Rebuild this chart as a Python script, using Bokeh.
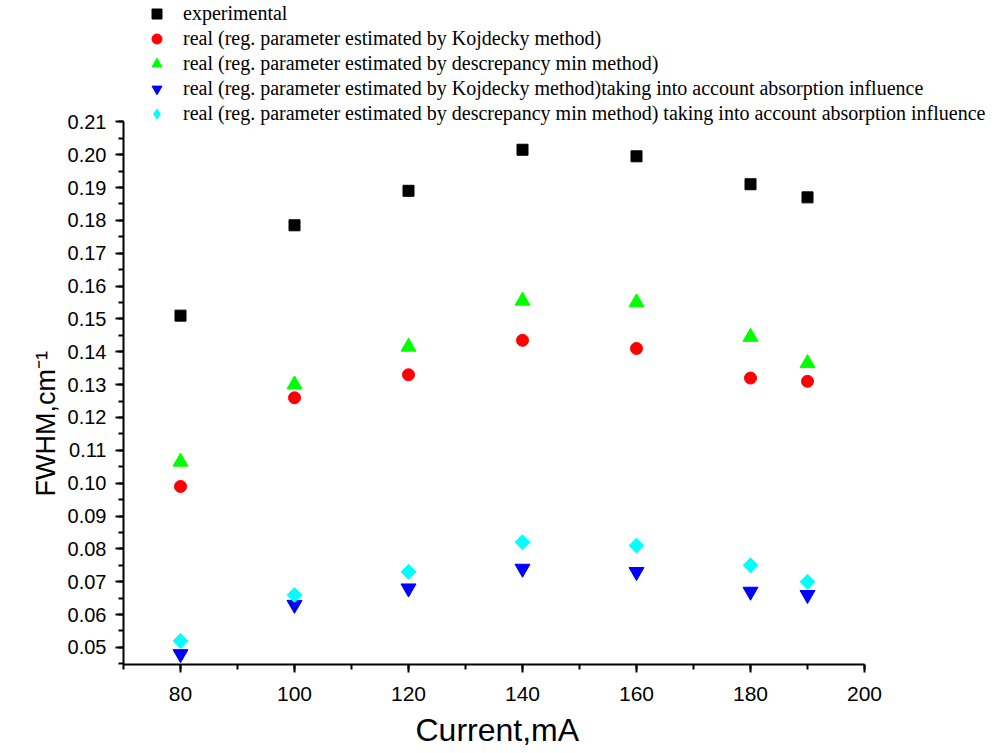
import math
from bokeh.plotting import figure
from bokeh.models import FixedTicker, PrintfTickFormatter, Legend, LegendItem, Title
from bokeh.embed import file_html
from bokeh.resources import INLINE

current = [80, 100, 120, 140, 160, 180, 190]
experimental = [0.151, 0.1785, 0.189, 0.2015, 0.1995, 0.191, 0.187]
real_kojdecky = [0.099, 0.126, 0.133, 0.1435, 0.141, 0.132, 0.131]
real_descrepancy = [0.1065, 0.130, 0.1415, 0.1555, 0.155, 0.1445, 0.1365]
real_kojdecky_abs = [0.048, 0.063, 0.068, 0.074, 0.073, 0.067, 0.066]
real_descrepancy_abs = [0.052, 0.066, 0.073, 0.082, 0.081, 0.075, 0.070]

labels = [
    "experimental",
    "real (reg. parameter estimated by Kojdecky method)",
    "real (reg. parameter estimated by descrepancy min method)",
    "real (reg. parameter estimated by Kojdecky method)taking into account absorption influence",
    "real (reg. parameter estimated by descrepancy min method) taking into account absorption influence",
]
x_ticks = [80, 100, 120, 140, 160, 180, 200]
y_ticks = [0.05, 0.06, 0.07, 0.08, 0.09, 0.10, 0.11, 0.12, 0.13, 0.14, 0.15, 0.16, 0.17, 0.18, 0.19, 0.20, 0.21]

X0, X1 = 70, 200
Y0, Y1 = 0.0448, 0.21
# frame spans to right/top edges; axes are bounded to the data area
p = figure(width=997, height=753, output_backend="svg", toolbar_location=None,
           x_range=(X0, X0 + (X1 - X0) * 874 / 741), y_range=(Y0, Y0 + (Y1 - Y0) * 665 / 543.5),
           min_border_left=123, min_border_right=0, min_border_top=0, min_border_bottom=88)
p.outline_line_color = None
p.grid.visible = False
p.background_fill_color = "white"
p.border_fill_color = "white"

r1 = p.scatter(current, experimental, marker="square", size=11, color="black")
r2 = p.scatter(current, real_kojdecky, marker="circle", size=12, color="red")
r3 = p.scatter(current, real_descrepancy, marker="triangle", size=15, color="#00ff00")
r4 = p.scatter(current, real_kojdecky_abs, marker="inverted_triangle", size=15, color="blue")
r5 = p.scatter(current, real_descrepancy_abs, marker="diamond", size=14, color="cyan")
r5_wide = p.scatter(current, real_descrepancy_abs, marker="square", angle=math.pi / 4, size=10.5, color="cyan")

minor_x = [70 + 10 * i for i in range(14)]
minor_y = [round(0.045 + 0.005 * i, 3) for i in range(34)]
p.xaxis.ticker = FixedTicker(ticks=x_ticks, minor_ticks=minor_x)
p.yaxis.ticker = FixedTicker(ticks=y_ticks, minor_ticks=minor_y)
p.yaxis.formatter = PrintfTickFormatter(format="%.2f")
p.xaxis.bounds = (X0, X1)
p.yaxis.bounds = (Y0, Y1)

for ax in (p.xaxis[0], p.yaxis[0]):
    ax.axis_line_width = 2
    ax.major_tick_line_width = 2
    ax.minor_tick_line_width = 2
    ax.major_tick_out = 8
    ax.major_tick_in = 0
    ax.minor_tick_out = 5
    ax.minor_tick_in = 0
    ax.major_label_text_font = "Liberation Sans"
    ax.major_label_text_color = "black"
    ax.major_label_standoff = 9

p.yaxis.major_label_text_font_size = "20px"
p.xaxis.major_label_text_font_size = "21px"
p.xaxis.major_label_standoff = 14

ylab = Title(text="FWHM,cm⁻¹", align="left", offset=168,
             text_font="Liberation Sans", text_font_size="27px",
             text_font_style="normal", text_color="black", standoff=8)
p.add_layout(ylab, "left")

xlab = Title(text="Current,mA", align="left", offset=292,
             text_font="Liberation Sans", text_font_size="32px",
             text_font_style="normal", text_color="black", standoff=12)
p.add_layout(xlab, "below")

items = [LegendItem(label=l, renderers=[r]) for l, r in zip(labels, [r1, r2, r3, r4, r5])]
legend = Legend(items=items, location=(21, 538), border_line_color=None,
                background_fill_alpha=0, padding=0, margin=0, spacing=0,
                glyph_width=25, glyph_height=25, label_standoff=14,
                label_text_font="Liberation Serif", label_text_font_size="20px",
                label_text_color="black")
p.add_layout(legend, "center")

open("out.html", "w").write(file_html(p, INLINE))
